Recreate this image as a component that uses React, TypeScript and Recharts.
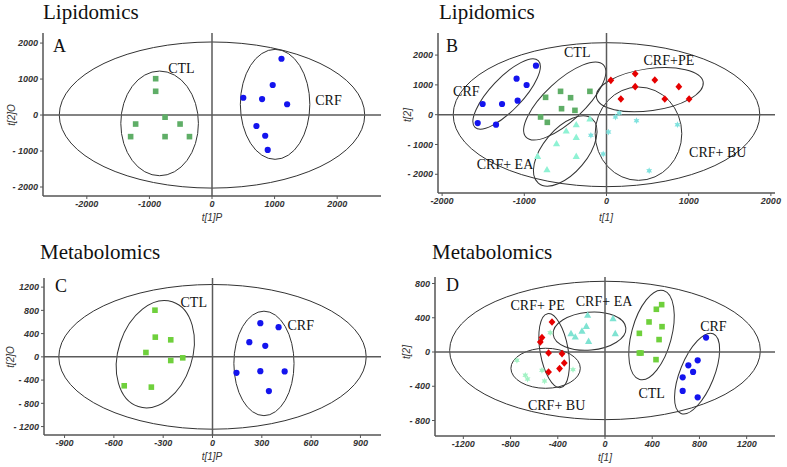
import {
  ScatterChart,
  Scatter,
  XAxis,
  YAxis,
  ReferenceLine,
  ReferenceArea,
  ReferenceDot,
} from 'recharts';

type Pt = { x: number; y: number };
type Ell = { cx: number; cy: number; rx: number; ry: number; rot: number };
type Tag = { text: string; x: number; y: number };
type Marker = 'circle' | 'square' | 'diamond' | 'triangle' | 'star';
type Group = { name: string; data: Pt[]; marker: Marker; color: string };

const SERIF = '"Liberation Serif", "Times New Roman", serif';
const SANS = '"Liberation Sans", Arial, sans-serif';

const BLUE = '#1414ee';
const RED = '#e60000';
const GREEN_LIPID = '#5fae67';
const GREEN_METAB = '#6fd03c';

// ---- panel A: lipidomics, CTL vs CRF ----
const aCtl: Pt[] = [
  { x: -900, y: 1010 }, { x: -900, y: 660 }, { x: -750, y: -60 }, { x: -1220, y: -250 },
  { x: -510, y: -250 }, { x: -1300, y: -600 }, { x: -750, y: -600 }, { x: -360, y: -600 },
];
const aCrf: Pt[] = [
  { x: 1110, y: 1565 }, { x: 970, y: 835 }, { x: 500, y: 480 }, { x: 800, y: 445 },
  { x: 1200, y: 300 }, { x: 710, y: -305 }, { x: 850, y: -575 }, { x: 890, y: -970 },
];
const aEllipses: Ell[] = [
  { cx: 0, cy: 0, rx: 2440, ry: 2030, rot: 0 },
  { cx: -837, cy: -232, rx: 620, ry: 1454, rot: 0 },
  { cx: 1008, cy: 297, rx: 555, ry: 1528, rot: 0 },
];
const aTags: Tag[] = [
  { text: 'CTL', x: -488, y: 1297 },
  { text: 'CRF', x: 1861, y: 417 },
];

// ---- panel B: lipidomics, five groups ----
const bCrf: Pt[] = [
  { x: -858, y: 1644 }, { x: -1094, y: 1208 }, { x: -972, y: 996 }, { x: -1507, y: 358 },
  { x: -1271, y: 358 }, { x: -1081, y: 470 }, { x: -1567, y: -280 }, { x: -1344, y: -336 },
];
const bCtl: Pt[] = [
  { x: -741, y: 582 }, { x: -559, y: 783 }, { x: -437, y: 570 }, { x: -202, y: 783 },
  { x: -547, y: 201 }, { x: -384, y: 145 }, { x: -802, y: -78 }, { x: -720, y: -257 },
];
const bPe: Pt[] = [
  { x: 53, y: 1152 }, { x: 349, y: 1376 }, { x: 588, y: 1163 }, { x: 349, y: 940 },
  { x: 880, y: 940 }, { x: 175, y: 526 }, { x: 709, y: 526 }, { x: 1005, y: 526 },
];
const bEa: Pt[] = [
  { x: -202, y: -145 }, { x: -368, y: -336 }, { x: -490, y: -548 }, { x: -368, y: -761 },
  { x: -608, y: -973 }, { x: -838, y: -1398 }, { x: -368, y: -1398 }, { x: -724, y: -1846 },
];
const bBu: Pt[] = [
  { x: 109, y: -78 }, { x: 154, y: 56 }, { x: 365, y: -201 }, { x: 863, y: -336 },
  { x: 24, y: -582 }, { x: -190, y: -693 }, { x: -40, y: -1320 }, { x: 519, y: -1879 },
];
const bEllipses: Ell[] = [
  { cx: 0, cy: 0, rx: 1865, ry: 2415, rot: 0 },
  { cx: -1215, cy: 695, rx: 559, ry: 537, rot: -46.5 },
  { cx: -508, cy: 460, rx: 644, ry: 671, rot: -43 },
  { cx: -502, cy: -1218, rx: 510, ry: 738, rot: -50 },
  { cx: 527, cy: 839, rx: 656, ry: 705, rot: -8 },
  { cx: 389, cy: -638, rx: 527, ry: 1566, rot: 0 },
];
const bTags: Tag[] = [
  { text: 'CTL', x: -356, y: 2090 },
  { text: 'CRF+PE', x: 759, y: 1823 },
  { text: 'CRF', x: -1705, y: 783 },
  { text: 'CRF+ EA', x: -1235, y: -1644 },
  { text: 'CRF+ BU', x: 1353, y: -1264 },
];

// ---- panel C: metabolomics, CTL vs CRF ----
const cCtl: Pt[] = [
  { x: -350, y: 803 }, { x: -348, y: 339 }, { x: -254, y: 293 }, { x: -405, y: 75 },
  { x: -181, y: -17 }, { x: -254, y: -63 }, { x: -537, y: -498 }, { x: -372, y: -521 },
];
const cCrf: Pt[] = [
  { x: 291, y: 579 }, { x: 402, y: 510 }, { x: 224, y: 253 }, { x: 321, y: 189 },
  { x: 146, y: -275 }, { x: 291, y: -246 }, { x: 439, y: -251 }, { x: 343, y: -589 },
];
const cEllipses: Ell[] = [
  { cx: 0, cy: 0, rx: 935, ry: 1245, rot: 0 },
  { cx: -348, cy: 46, rx: 335, ry: 636, rot: -72 },
  { cx: 313, cy: -113, rx: 183, ry: 899, rot: 0 },
];
const cTags: Tag[] = [
  { text: 'CTL', x: -114, y: 945 },
  { text: 'CRF', x: 537, y: 545 },
];

// ---- panel D: metabolomics, five groups ----
const dCrf: Pt[] = [
  { x: 856, y: 168 }, { x: 785, y: -97 }, { x: 706, y: -155 }, { x: 746, y: -233 },
  { x: 658, y: -296 }, { x: 658, y: -455 }, { x: 785, y: -529 },
];
const dCtl: Pt[] = [
  { x: 480, y: 553 }, { x: 435, y: 499 }, { x: 373, y: 351 }, { x: 483, y: 296 },
  { x: 291, y: 218 }, { x: 458, y: 145 }, { x: 291, y: -12 }, { x: 305, y: -12 }, { x: 432, y: -89 },
];
const dPe: Pt[] = [
  { x: -449, y: 350 }, { x: -534, y: 168 }, { x: -548, y: 117 }, { x: -478, y: -12 },
  { x: -364, y: -19 }, { x: -345, y: -128 }, { x: -385, y: -194 }, { x: -478, y: -234 },
];
const dEa: Pt[] = [
  { x: -147, y: 429 }, { x: 68, y: 390 }, { x: -158, y: 300 }, { x: -195, y: 245 },
  { x: -288, y: 215 }, { x: -252, y: 175 }, { x: -139, y: 125 }, { x: 87, y: 215 },
];
const dBu: Pt[] = [
  { x: -464, y: 226 }, { x: -746, y: -97 }, { x: -675, y: -272 }, { x: -656, y: -315 },
  { x: -534, y: -214 }, { x: -512, y: -339 }, { x: -271, y: -206 },
];
const dEllipses: Ell[] = [
  { cx: 0, cy: 18, rx: 1316, ry: 808, rot: 0 },
  { cx: -431, cy: 16, rx: 318, ry: 164, rot: 80 },
  { cx: -131, cy: 244, rx: 309, ry: 222, rot: -5 },
  { cx: -503, cy: -190, rx: 294, ry: 234, rot: 0 },
  { cx: 394, cy: 199, rx: 390, ry: 234, rot: -75 },
  { cx: 780, cy: -252, rx: 364, ry: 199, rot: -68 },
];
const dTags: Tag[] = [
  { text: 'CRF+ PE', x: -571, y: 545 },
  { text: 'CRF+ EA', x: -8, y: 596 },
  { text: 'CRF', x: 918, y: 304 },
  { text: 'CTL', x: 395, y: -479 },
  { text: 'CRF+ BU', x: -410, y: -615 },
];

const lipidTicks = [-2000, -1000, 0, 1000, 2000];
const cXTicks = [-900, -600, -300, 0, 300, 600, 900];
const cYTicks = [-1200, -800, -400, 0, 400, 800, 1200];
const dXTicks = [-1200, -800, -400, 0, 400, 800, 1200];
const dYTicks = [-800, -400, 0, 400, 800];

const tickStyle = {
  fontSize: 9,
  fill: '#333',
  fontStyle: 'italic',
  fontWeight: 'bold',
  fontFamily: SANS,
};

const fmtY = (v: number) => (v < 0 ? `- ${Math.abs(v)}` : `${v}`);

const ellipseShape = (rot: number) => (props: any) => {
  const { x, y, width, height } = props;
  const cx = x + width / 2;
  const cy = y + height / 2;
  return (
    <ellipse
      cx={cx}
      cy={cy}
      rx={Math.abs(width) / 2}
      ry={Math.abs(height) / 2}
      transform={`rotate(${rot} ${cx} ${cy})`}
      fill="none"
      stroke="#333"
      strokeWidth={1}
    />
  );
};

// small marker glyphs, placed at the cx/cy that recharts computes
const markerShape = (marker: Marker, color: string) => (props: any) => {
  const { cx, cy } = props;
  if (cx == null || cy == null) return <g />;
  switch (marker) {
    case 'circle':
      return <circle cx={cx} cy={cy} r={3.1} fill={color} />;
    case 'square':
      return <rect x={cx - 2.8} y={cy - 2.8} width={5.6} height={5.6} fill={color} />;
    case 'diamond':
      return (
        <polygon
          points={`${cx},${cy - 3.8} ${cx + 3.4},${cy} ${cx},${cy + 3.8} ${cx - 3.4},${cy}`}
          fill={color}
        />
      );
    case 'triangle':
      return (
        <polygon
          points={`${cx},${cy - 3.8} ${cx + 3.6},${cy + 2.6} ${cx - 3.6},${cy + 2.6}`}
          fill={color}
        />
      );
    default: {
      const pts: string[] = [];
      for (let k = 0; k < 12; k++) {
        const r = k % 2 === 0 ? 3.4 : 1.7;
        const a = (Math.PI / 6) * k - Math.PI / 2;
        pts.push(`${cx + r * Math.cos(a)},${cy + r * Math.sin(a)}`);
      }
      return <polygon points={pts.join(' ')} fill={color} />;
    }
  }
};

interface PanelProps {
  left: number;
  top: number;
  width: number;
  height: number;
  plot: { l: number; r: number; t: number; b: number };
  xDomain: [number, number];
  yDomain: [number, number];
  xTicks: number[];
  yTicks: number[];
  groups: Group[];
  ellipses: Ell[];
  tags: Tag[];
}

function Panel({ left, top, width, height, plot, xDomain, yDomain, xTicks, yTicks, groups, ellipses, tags }: PanelProps) {
  return (
    <div style={{ position: 'absolute', left, top }}>
      <ScatterChart
        width={width}
        height={height}
        margin={{ top: plot.t, right: width - plot.r, bottom: 0, left: 0 }}
      >
        <XAxis
          type="number"
          dataKey="x"
          domain={xDomain}
          ticks={xTicks}
          interval={0}
          allowDataOverflow
          height={height - plot.b}
          tick={tickStyle}
          tickSize={3}
          axisLine={{ stroke: '#555', strokeWidth: 1.5 }}
          tickLine={{ stroke: '#555' }}
        />
        <YAxis
          type="number"
          dataKey="y"
          domain={yDomain}
          ticks={yTicks}
          interval={0}
          allowDataOverflow
          width={plot.l}
          tick={tickStyle}
          tickSize={3}
          tickFormatter={fmtY}
          axisLine={{ stroke: '#555', strokeWidth: 1.5 }}
          tickLine={{ stroke: '#555' }}
        />
        <ReferenceLine x={0} stroke="#5a5a5a" strokeWidth={1.5} />
        <ReferenceLine y={0} stroke="#5a5a5a" strokeWidth={1.5} />
        {ellipses.map((e, i) => (
          <ReferenceArea
            key={`ell-${i}`}
            x1={e.cx - e.rx}
            x2={e.cx + e.rx}
            y1={e.cy - e.ry}
            y2={e.cy + e.ry}
            ifOverflow="visible"
            shape={ellipseShape(e.rot)}
          />
        ))}
        {groups.map((g) => (
          <Scatter
            key={g.name}
            name={g.name}
            data={g.data}
            fill={g.color}
            shape={markerShape(g.marker, g.color)}
            isAnimationActive={false}
          />
        ))}
        {tags.map((t) => (
          <ReferenceDot
            key={t.text}
            x={t.x}
            y={t.y}
            r={0}
            fill="none"
            stroke="none"
            ifOverflow="visible"
            label={{ value: t.text, position: 'center', fontSize: 14, fontFamily: SERIF, fill: '#111' }}
          />
        ))}
      </ScatterChart>
    </div>
  );
}

const axisText = { fontSize: 10, fontStyle: 'italic' as const, fontFamily: SANS, fill: '#333' };

export default function App() {
  return (
    <div style={{ position: 'absolute', left: 0, top: 0, width: 787, height: 467, background: '#fff' }}>
      <Panel
        left={0}
        top={0}
        width={393}
        height={230}
        plot={{ l: 43, r: 381, t: 33, b: 196 }}
        xDomain={[-2700, 2700]}
        yDomain={[-2250, 2280]}
        xTicks={lipidTicks}
        yTicks={lipidTicks}
        ellipses={aEllipses}
        tags={aTags}
        groups={[
          { name: 'CTL', data: aCtl, marker: 'square', color: GREEN_LIPID },
          { name: 'CRF', data: aCrf, marker: 'circle', color: BLUE },
        ]}
      />
      <Panel
        left={393}
        top={0}
        width={394}
        height={230}
        plot={{ l: 45, r: 382, t: 33, b: 193 }}
        xDomain={[-2050, 2050]}
        yDomain={[-2628, 2741]}
        xTicks={lipidTicks}
        yTicks={lipidTicks}
        ellipses={bEllipses}
        tags={bTags}
        groups={[
          { name: 'CRF', data: bCrf, marker: 'circle', color: BLUE },
          { name: 'CTL', data: bCtl, marker: 'square', color: GREEN_LIPID },
          { name: 'CRF+PE', data: bPe, marker: 'diamond', color: RED },
          { name: 'CRF+EA', data: bEa, marker: 'triangle', color: '#8ff2d4' },
          { name: 'CRF+BU', data: bBu, marker: 'star', color: '#7fe2de' },
        ]}
      />
      <Panel
        left={0}
        top={230}
        width={393}
        height={237}
        plot={{ l: 44, r: 381, t: 48, b: 205 }}
        xDomain={[-1025, 1025]}
        yDomain={[-1345, 1357]}
        xTicks={cXTicks}
        yTicks={cYTicks}
        ellipses={cEllipses}
        tags={cTags}
        groups={[
          { name: 'CTL', data: cCtl, marker: 'square', color: GREEN_METAB },
          { name: 'CRF', data: cCrf, marker: 'circle', color: BLUE },
        ]}
      />
      <Panel
        left={393}
        top={230}
        width={394}
        height={237}
        plot={{ l: 42, r: 382, t: 47, b: 206 }}
        xDomain={[-1440, 1440]}
        yDomain={[-981, 876]}
        xTicks={dXTicks}
        yTicks={dYTicks}
        ellipses={dEllipses}
        tags={dTags}
        groups={[
          { name: 'CRF', data: dCrf, marker: 'circle', color: BLUE },
          { name: 'CTL', data: dCtl, marker: 'square', color: GREEN_METAB },
          { name: 'CRF+PE', data: dPe, marker: 'diamond', color: RED },
          { name: 'CRF+EA', data: dEa, marker: 'triangle', color: '#7fe3d2' },
          { name: 'CRF+BU', data: dBu, marker: 'star', color: '#a2f2c4' },
        ]}
      />
      <svg width={787} height={467} style={{ position: 'absolute', left: 0, top: 0, pointerEvents: 'none' }}>
        <g fontFamily={SERIF} fill="#111">
          <text x={43} y={19} fontSize={21}>Lipidomics</text>
          <text x={439} y={19} fontSize={21}>Lipidomics</text>
          <text x={40} y={259} fontSize={21}>Metabolomics</text>
          <text x={432} y={259} fontSize={21}>Metabolomics</text>
          <text x={53} y={52} fontSize={18}>A</text>
          <text x={446} y={52} fontSize={18}>B</text>
          <text x={55} y={292} fontSize={18}>C</text>
          <text x={446} y={291} fontSize={18}>D</text>
        </g>
        <g {...axisText}>
          <text x={212} y={221} textAnchor="middle">t[1]P</text>
          <text x={606} y={221} textAnchor="middle">t[1]</text>
          <text x={212} y={460} textAnchor="middle">t[1]P</text>
          <text x={605} y={461} textAnchor="middle">t[1]</text>
          <text x={15} y={115} textAnchor="middle" transform="rotate(-90 15 115)">t[2]O</text>
          <text x={411} y={115} textAnchor="middle" transform="rotate(-90 411 115)">t[2]</text>
          <text x={14} y={357} textAnchor="middle" transform="rotate(-90 14 357)">t[2]O</text>
          <text x={410} y={352} textAnchor="middle" transform="rotate(-90 410 352)">t[2]</text>
        </g>
      </svg>
    </div>
  );
}
